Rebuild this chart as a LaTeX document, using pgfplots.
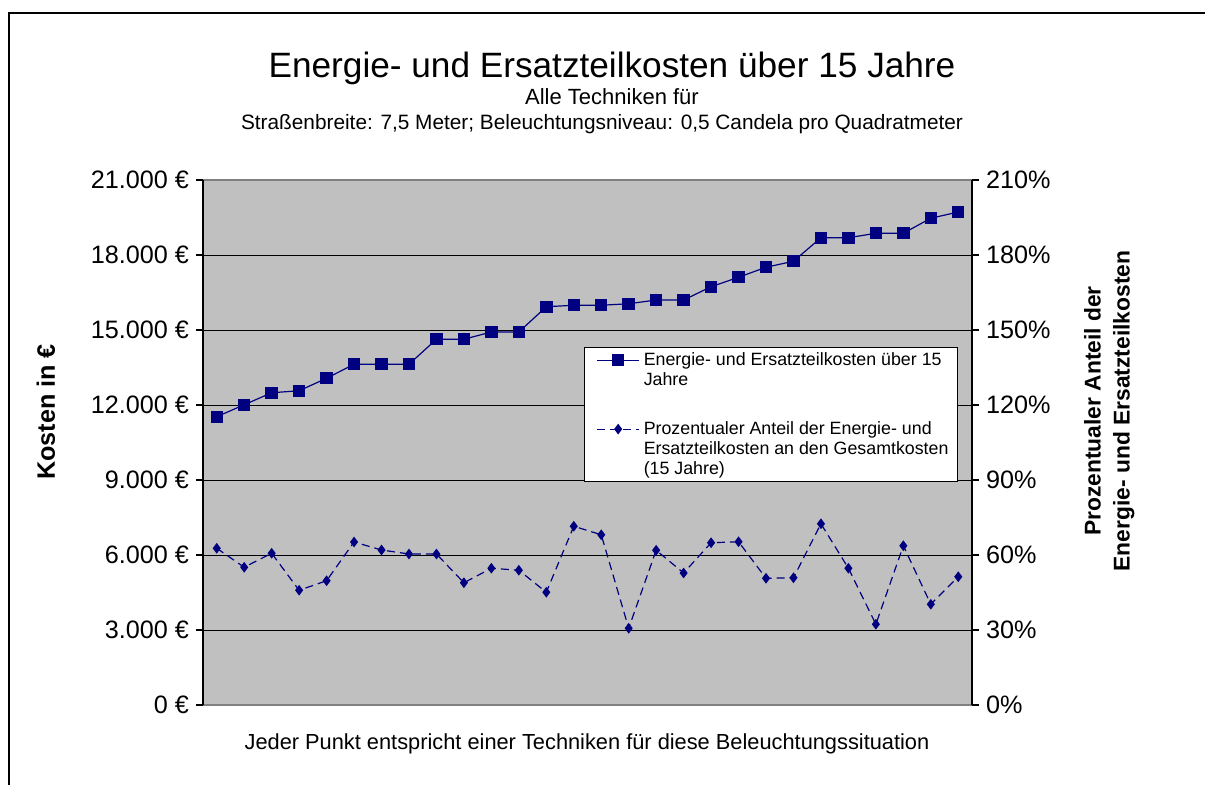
\documentclass[border=0pt]{standalone}
\usepackage{pgfplots}
\pgfplotsset{compat=1.18}
\usepackage{fontspec}
\setmainfont{Liberation Sans}
\definecolor{navy}{RGB}{0,0,128}
\definecolor{plotgray}{RGB}{192,192,192}
\definecolor{bordergray}{RGB}{128,128,128}
\newcommand\lstrut{\rule[-3pt]{0pt}{10pt}}
\pgfplotstableread{
x cost
1 11530
2 12010
3 12490
4 12570
5 13070
6 13630
7 13630
8 13630
9 14630
10 14630
11 14920
12 14920
13 15930
14 15990
15 15990
16 16050
17 16200
18 16200
19 16730
20 17110
21 17510
22 17750
23 18690
24 18690
25 18870
26 18870
27 19470
28 19720
}\costdata
\pgfplotstableread{
x share
1 62.7
2 55.1
3 60.7
4 45.9
5 49.7
6 65.2
7 62.0
8 60.4
9 60.4
10 48.9
11 54.7
12 53.9
13 45.1
14 71.5
15 68.1
16 30.7
17 61.9
18 52.8
19 64.9
20 65.3
21 50.7
22 50.9
23 72.5
24 54.7
25 32.3
26 63.7
27 40.3
28 51.3
}\sharedata
\begin{document}
\begin{tikzpicture}
\useasboundingbox (0,0) rectangle (602.5pt,392pt);
\fill[white] (0,0) rectangle (602.5pt,392pt);
\draw[line width=1.3pt] (4.5pt,-5pt) -- (4.5pt,385.5pt) -- (610pt,385.5pt);
\pgfplotsset{
  base/.style={
    at={(101.5pt,39.5pt)}, anchor=south west,
    scale only axis, width=384.5pt, height=262.5pt,
    xmin=0.5, xmax=28.5, xtick=\empty,
    tick align=outside, major tick length=3.5pt,
    tick style={black, line width=0.8pt},
    scaled y ticks=false,
    yticklabel style={font=\fontsize{12.6}{14}\selectfont},
    clip=false,
  },
  costline/.style={navy, line width=0.6pt, mark=square*, mark size=2.8pt, mark options={solid, fill=navy}},
  shareline/.style={navy, line width=0.6pt, dash pattern=on 4pt off 2.5pt, mark=diamond*, mark size=2.2pt, mark options={solid, fill=navy}},
}
\begin{axis}[base,
  ymin=0, ymax=21000,
  ytick={0,3000,...,21000},
  yticklabels={0 €,3.000 €,6.000 €,9.000 €,12.000 €,15.000 €,18.000 €,21.000 €},
  ytick pos=left,
  minor ytick={3000,6000,...,18000}, minor tick length=0pt,
  yminorgrids, minor grid style={black, line width=0.5pt},
  axis background/.style={fill=plotgray},
  separate axis lines,
  every outer x axis line/.append style={draw=bordergray, line width=1pt},
  every outer y axis line/.append style={draw=black, line width=1.1pt},
  ylabel={\bfseries Kosten in €},
  every axis y label/.style={at={(rel axis cs:-0.2042,0.558)}, rotate=90, anchor=center, font=\fontsize{12.6}{15}\selectfont},
  xlabel={Jeder Punkt entspricht einer Techniken für diese Beleuchtungssituation},
  every axis x label/.style={at={(rel axis cs:0.4993,-0.0743)}, anchor=center, font=\fontsize{10.9}{13}\selectfont},
]
\addplot[costline] table[x=x, y=cost] {\costdata};
\end{axis}
\begin{axis}[base,
  ymin=0, ymax=210,
  axis x line=none, axis y line*=right,
  ytick={0,30,...,210},
  yticklabels={0\%,30\%,60\%,90\%,120\%,150\%,180\%,210\%},
  tick align=outside,
  y axis line style={black, line width=1pt},
  ylabel={\bfseries\begin{tabular}{c}Prozentualer Anteil der\\[1.5pt] Energie- und Ersatzteilkosten\end{tabular}},
  every axis y label/.style={at={(rel axis cs:1.1794,0.56)}, rotate=90, anchor=center, font=\fontsize{11.4}{13}\selectfont},
  legend style={at={(rel axis cs:0.4954,0.6819)}, anchor=north west,
    draw=black, line width=0.6pt, fill=white, font=\fontsize{8.9}{10}\selectfont,
    inner xsep=6pt, inner ysep=2pt, row sep=1.5pt,
    nodes={inner ysep=0pt},
    cells={anchor=west}},
  legend cell align=left,
  legend image code/.code={\draw[mark repeat=2, mark phase=2, #1] plot coordinates {(0pt,0pt) (10.5pt,0pt) (21pt,0pt)};},
]
\addlegendimage{costline}
\addlegendentry{\lstrut Energie- und Ersatzteilkosten über 15}
\addlegendimage{empty legend}
\addlegendentry{\lstrut Jahre}
\addlegendimage{empty legend}
\addlegendentry{\rule{0pt}{11.5pt}}
\addlegendimage{shareline}
\addlegendentry{\lstrut Prozentualer Anteil der Energie- und}
\addlegendimage{empty legend}
\addlegendentry{\lstrut\makebox[148pt][l]{Ersatzteilkosten an den Gesamtkosten}}
\addlegendimage{empty legend}
\addlegendentry{\lstrut (15 Jahre)}
\addplot[shareline, forget plot] table[x=x, y=share] {\sharedata};
\end{axis}
\node[anchor=base, font=\fontsize{17.6}{21}\selectfont] at (306pt,353pt) {Energie- und Ersatzteilkosten über 15 Jahre};
\node[anchor=base, font=\fontsize{11}{13}\selectfont] at (306pt,340pt) {Alle Techniken für};
\node[anchor=base, font=\fontsize{10.4}{13}\selectfont] at (301pt,327pt) {Straßenbreite: 7,5 Meter; Beleuchtungsniveau: 0,5 Candela pro Quadratmeter};
\end{tikzpicture}
\end{document}
